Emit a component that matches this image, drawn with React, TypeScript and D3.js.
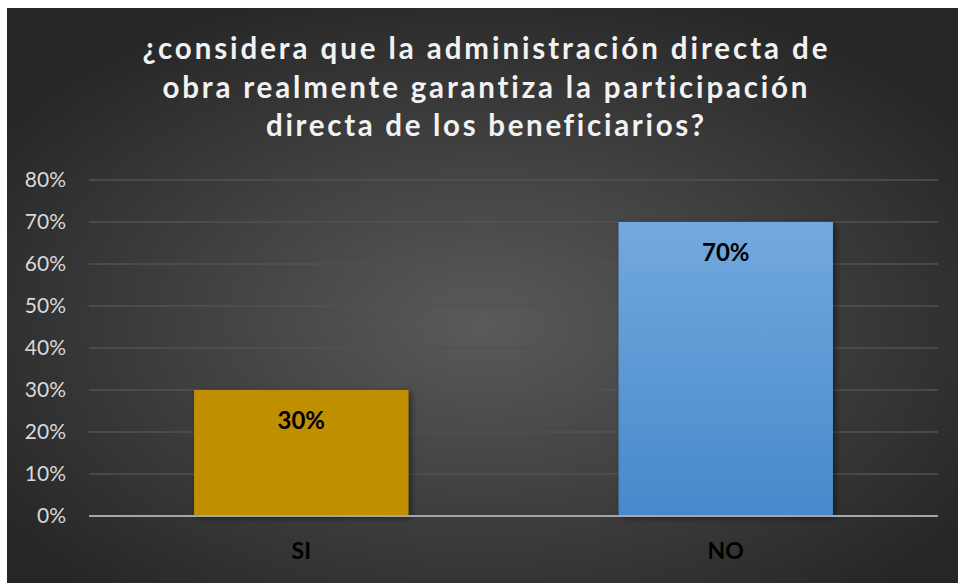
import React from 'react';
import * as d3 from 'd3';

const categories = ['SI', 'NO'];
const values = [0.3, 0.7];
const yTicks = [0, 0.1, 0.2, 0.3, 0.4, 0.5, 0.6, 0.7, 0.8];
const titleLines = [
  '¿considera que la administración directa de',
  'obra realmente garantiza la participación',
  'directa de los beneficiarios?',
];
// measured widths of each title line in the reference
const titleWidths = [685, 645, 438];

const width = 958;
const height = 583;

const App = () => {
  const x = d3.scaleBand<string>().domain(categories).range([89, 938]).paddingInner(0.495).paddingOuter(0.2475);
  const y = d3.scaleLinear().domain([0, 0.8]).range([516, 180]);
  const fmt = d3.format('.0%');
  const font = 'Lato, "Open Sans", sans-serif';

  return (
    <svg
      width={width}
      height={height}
      style={{ position: 'absolute', left: 0, top: 0, fontVariantLigatures: 'none' }}
      fontFamily={font}
    >
      <defs>
        <radialGradient id="bg" cx="50%" cy="55%" r="62%">
          <stop offset="0%" stopColor="#5a5a5a" />
          <stop offset="100%" stopColor="#262626" />
        </radialGradient>
        <linearGradient id="blue" x1="0" y1="0" x2="0" y2="1">
          <stop offset="0%" stopColor="#73a9de" />
          <stop offset="100%" stopColor="#4689cb" />
        </linearGradient>
        <filter id="shadow" x="-10%" y="-10%" width="130%" height="130%">
          <feDropShadow dx="3" dy="2" stdDeviation="3" floodColor="#000" floodOpacity="0.45" />
        </filter>
      </defs>
      <rect x={0} y={0} width={width} height={height} fill="#fff" />
      <rect x={7} y={8} width={width - 7} height={height - 8} fill="url(#bg)" />

      {titleLines.map((t, i) => (
        <text
          key={i}
          x={485}
          y={59 + i * 38.5}
          textAnchor="middle"
          fontSize={29.5}
          fontWeight={700}
          fill="#f2f2f2"
          textLength={titleWidths[i]}
          lengthAdjust="spacing"
        >
          {t}
        </text>
      ))}

      {yTicks.slice(1).map((t) => (
        <line key={t} x1={89} x2={938} y1={y(t)} y2={y(t)} stroke="#525252" strokeWidth={1.3} />
      ))}
      {yTicks.map((t) => (
        <text key={t} x={66} y={y(t)} dy="0.35em" textAnchor="end" fontSize={21} fill="#d9d9d9">
          {fmt(t)}
        </text>
      ))}

      {categories.map((c, i) => (
        <rect
          key={c}
          x={x(c)}
          y={y(values[i])}
          width={x.bandwidth()}
          height={y(0) - y(values[i])}
          fill={i === 0 ? '#bf8f00' : 'url(#blue)'}
          filter="url(#shadow)"
        />
      ))}
      <line x1={89} x2={938} y1={y(0)} y2={y(0)} stroke="#a6a6a6" strokeWidth={2} />

      {categories.map((c, i) => (
        <text
          key={c}
          x={(x(c) ?? 0) + x.bandwidth() / 2}
          y={y(values[i]) + 39}
          textAnchor="middle"
          fontSize={24}
          fontWeight={700}
          fill="#000"
        >
          {fmt(values[i])}
        </text>
      ))}
      {categories.map((c) => (
        <text
          key={c}
          x={(x(c) ?? 0) + x.bandwidth() / 2}
          y={559}
          textAnchor="middle"
          fontSize={23}
          fontWeight={700}
          fill="#000"
        >
          {c}
        </text>
      ))}
    </svg>
  );
};

export default App;
